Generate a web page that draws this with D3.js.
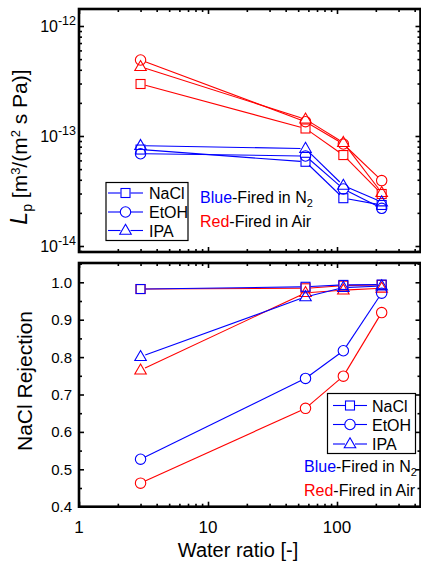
<!DOCTYPE html>
<html><head><meta charset="utf-8">
<script src="https://cdn.jsdelivr.net/npm/d3@7"></script>
<style>
body{margin:0;background:#fff}
svg{display:block;font-family:"Liberation Sans",Arial,Helvetica,sans-serif}
</style>
</head><body>
<svg id="chart" width="421" height="565"></svg>
<script>
// Water ratio (x) shared by both panels
const waterRatio = [3, 57, 112, 222];
const solvents = ["NaCl", "EtOH", "IPA"];
const shapes = ["square", "circle", "triangle"];

// Pure-water permeance Lp [m3/(m2 s Pa)]
const lpN2NaCl  = [7.53e-14, 5.83e-14, 2.72e-14, 2.36e-14];
const lpN2EtOH  = [6.90e-14, 6.58e-14, 3.30e-14, 2.20e-14];
const lpN2IPA   = [8.17e-14, 7.69e-14, 3.55e-14, 2.51e-14];
const lpAirNaCl = [2.97e-13, 1.17e-13, 6.71e-14, 2.97e-14];
const lpAirEtOH = [4.91e-13, 1.35e-13, 8.45e-14, 3.93e-14];
const lpAirIPA  = [4.26e-13, 1.42e-13, 8.70e-14, 3.05e-14];

// NaCl rejection [-]
const rejN2NaCl  = [0.982, 0.988, 0.993, 0.994];
const rejN2EtOH  = [0.527, 0.743, 0.817, 0.971];
const rejN2IPA   = [0.801, 0.961, 0.986, 0.990];
const rejAirNaCl = [0.982, 0.984, 0.991, 0.993];
const rejAirEtOH = [0.463, 0.663, 0.749, 0.919];
const rejAirIPA  = [0.765, 0.972, 0.979, 0.984];

const xMajorTicks = [1, 10, 100];
const lpTickExps = [-12, -13, -14];
const rejTicks = [0.4, 0.5, 0.6, 0.7, 0.8, 0.9, 1.0];

const BLUE = "#0000ff", RED = "#ff0000";

const svg = d3.select("#chart");

// ---- geometry
const X0 = 79, X1 = 420.5;
const topP = {y0: 9, y1: 252};
const botP = {y0: 263, y1: 506.7};

const x = d3.scaleLog().domain([1, Math.pow(10, (X1 - X0) / 129)]).range([X0, X1]);

// Log y: 1e-12 at y=26, 1e-14 at y=246
const decade = 110;
const lpTopExp = -12 + (26 - topP.y0) / decade;
const lpBotExp = -14 - (topP.y1 - 246) / decade;
const yLp = d3.scaleLog().domain([Math.pow(10, lpBotExp), Math.pow(10, lpTopExp)]).range([topP.y1, topP.y0]);
const yRej = d3.scaleLinear().domain([0.4, 0.4 + (botP.y1 - botP.y0) / 374]).range([botP.y1, botP.y0]);

const xMinor = [];
[1, 10, 100].forEach(b => { for (let k = 2; k <= 9; k++) { const v = b * k; if (v < x.domain()[1]) xMinor.push(v); } });
const lpMinor = [];
[-15, -14, -13, -12].forEach(e => { for (let k = 2; k <= 9; k++) { const v = k * Math.pow(10, e); if (v > yLp.domain()[0] && v < yLp.domain()[1]) lpMinor.push(v); } });
const rejMinor = d3.range(0.45, 1.05, 0.1).map(v => +v.toFixed(2));

function tickAxis(g, axis) {
  g.call(axis);
  g.select(".domain").remove();
  g.selectAll("text").remove();
  g.selectAll("line").attr("stroke", "#000").attr("stroke-width", 1.6);
}

function frame(p, yScale, yMajor, yMinor) {
  const g = svg.append("g");
  // x ticks, inward on bottom and top
  g.append("g").attr("transform", `translate(0,${p.y1})`).call(s => tickAxis(s, d3.axisBottom(x).tickValues(xMajorTicks).tickSize(-5)));
  g.append("g").attr("transform", `translate(0,${p.y1})`).call(s => tickAxis(s, d3.axisBottom(x).tickValues(xMinor).tickSize(-3)));
  g.append("g").attr("transform", `translate(0,${p.y0})`).call(s => tickAxis(s, d3.axisTop(x).tickValues(xMajorTicks).tickSize(-5)));
  g.append("g").attr("transform", `translate(0,${p.y0})`).call(s => tickAxis(s, d3.axisTop(x).tickValues(xMinor).tickSize(-3)));
  // y ticks, inward on left and right
  g.append("g").attr("transform", `translate(${X0},0)`).call(s => tickAxis(s, d3.axisLeft(yScale).tickValues(yMajor).tickSize(-5)));
  g.append("g").attr("transform", `translate(${X0},0)`).call(s => tickAxis(s, d3.axisLeft(yScale).tickValues(yMinor).tickSize(-3)));
  g.append("g").attr("transform", `translate(${X1},0)`).call(s => tickAxis(s, d3.axisRight(yScale).tickValues(yMajor).tickSize(-5)));
  g.append("g").attr("transform", `translate(${X1},0)`).call(s => tickAxis(s, d3.axisRight(yScale).tickValues(yMinor).tickSize(-3)));
  g.append("rect").attr("x", X0).attr("y", p.y0).attr("width", X1 - X0).attr("height", p.y1 - p.y0)
    .attr("fill", "none").attr("stroke", "#000").attr("stroke-width", 2.6);
}

function marker(g, shape, cx, cy, color) {
  if (shape === "square") {
    g.append("rect").attr("x", cx - 4.5).attr("y", cy - 4.5).attr("width", 9).attr("height", 9)
      .attr("fill", "none").attr("stroke", color).attr("stroke-width", 1.1);
  } else if (shape === "circle") {
    g.append("circle").attr("cx", cx).attr("cy", cy).attr("r", 5.2)
      .attr("fill", "none").attr("stroke", color).attr("stroke-width", 1.1);
  } else {
    const h = 10, w = 11.5;
    g.append("path").attr("d", `M${cx},${cy - h * 0.62}L${cx + w / 2},${cy + h * 0.38}L${cx - w / 2},${cy + h * 0.38}Z`)
      .attr("fill", "none").attr("stroke", color).attr("stroke-width", 1.1);
  }
}

// Line segments stop at the marker edge
function series(g, xs, ys, yScale, shape, color) {
  const pts = xs.map((v, i) => [x(v), yScale(ys[i])]);
  const gap = 5;
  for (let i = 0; i < pts.length - 1; i++) {
    const [ax, ay] = pts[i], [bx, by] = pts[i + 1];
    const L = Math.hypot(bx - ax, by - ay);
    if (L <= 2 * gap) continue;
    const ux = (bx - ax) / L, uy = (by - ay) / L;
    g.append("line").attr("x1", ax + ux * gap).attr("y1", ay + uy * gap)
      .attr("x2", bx - ux * gap).attr("y2", by - uy * gap)
      .attr("stroke", color).attr("stroke-width", 1.1);
  }
  pts.forEach(([px, py]) => marker(g, shape, px, py, color));
}

// ---- top panel: permeance
frame(topP, yLp, lpTickExps.map(e => Math.pow(10, e)), lpMinor);
const gTop = svg.append("g");
const lpSets = [
  [lpAirNaCl, "square", RED], [lpAirEtOH, "circle", RED], [lpAirIPA, "triangle", RED],
  [lpN2NaCl, "square", BLUE], [lpN2EtOH, "circle", BLUE], [lpN2IPA, "triangle", BLUE]
];
lpSets.forEach(([vals, sh, c]) => series(gTop, waterRatio, vals, yLp, sh, c));

lpTickExps.forEach(e => {
  const t = svg.append("text").attr("x", 76).attr("y", yLp(Math.pow(10, e)) + 6)
    .attr("text-anchor", "end").attr("font-size", 16).attr("fill", "#000");
  t.append("tspan").text("10");
  t.append("tspan").attr("dy", -7).attr("font-size", 12.5).text(String(e));
});

const lpTitle = svg.append("text").attr("transform", `translate(27,147) rotate(-90)`)
  .attr("text-anchor", "middle").attr("font-size", 21).attr("fill", "#000");
lpTitle.append("tspan").attr("font-style", "italic").attr("font-size", 23).text("L");
lpTitle.append("tspan").attr("dy", 5).attr("font-size", 14).text("p");
lpTitle.append("tspan").attr("dy", -5).text(" [m");
lpTitle.append("tspan").attr("dy", -7).attr("font-size", 13).text("3");
lpTitle.append("tspan").attr("dy", 7).text("/(m");
lpTitle.append("tspan").attr("dy", -7).attr("font-size", 13).text("2");
lpTitle.append("tspan").attr("dy", 7).text(" s Pa)]");

// ---- bottom panel: NaCl rejection
frame(botP, yRej, rejTicks, rejMinor);
const gBot = svg.append("g");
const rejSets = [
  [rejAirNaCl, "square", RED], [rejAirEtOH, "circle", RED], [rejAirIPA, "triangle", RED],
  [rejN2NaCl, "square", BLUE], [rejN2EtOH, "circle", BLUE], [rejN2IPA, "triangle", BLUE]
];
rejSets.forEach(([vals, sh, c]) => series(gBot, waterRatio, vals, yRej, sh, c));

rejTicks.forEach(v => {
  svg.append("text").attr("x", 72).attr("y", yRej(v) + 5.5).attr("text-anchor", "end")
    .attr("font-size", 15).attr("fill", "#000").text(v.toFixed(1));
});
xMajorTicks.forEach(v => {
  svg.append("text").attr("x", x(v)).attr("y", botP.y1 + 26).attr("text-anchor", "middle")
    .attr("font-size", 17).attr("fill", "#000").text(d3.format("d")(v));
});
svg.append("text").attr("x", 238).attr("y", 557).attr("text-anchor", "middle")
  .attr("font-size", 20).attr("fill", "#000").text("Water ratio [-]");
svg.append("text").attr("transform", `translate(32,381) rotate(-90)`).attr("text-anchor", "middle")
  .attr("font-size", 21).attr("fill", "#000").text("NaCl Rejection");

// ---- legends
function legend(bx, by, bw, bh, rowYs, lineX0, lineX1, textX) {
  const g = svg.append("g");
  g.append("rect").attr("x", bx).attr("y", by).attr("width", bw).attr("height", bh)
    .attr("fill", "#fff").attr("stroke", "#000").attr("stroke-width", 1.2);
  solvents.forEach((s, i) => {
    const cy = rowYs[i], mx = (lineX0 + lineX1) / 2;
    g.append("line").attr("x1", lineX0).attr("x2", mx - 5).attr("y1", cy).attr("y2", cy).attr("stroke", BLUE).attr("stroke-width", 1.1);
    g.append("line").attr("x1", mx + 5).attr("x2", lineX1).attr("y1", cy).attr("y2", cy).attr("stroke", BLUE).attr("stroke-width", 1.1);
    marker(g, shapes[i], mx, cy, BLUE);
    g.append("text").attr("x", textX).attr("y", cy + 6).attr("font-size", 16).attr("fill", "#000").text(s);
  });
}
function firedNote(tx, ty, anchor) {
  const a = svg.append("text").attr("x", tx).attr("y", ty).attr("font-size", 16).attr("text-anchor", anchor);
  a.append("tspan").attr("fill", BLUE).text("Blue");
  a.append("tspan").attr("fill", "#000").text("-Fired in N");
  a.append("tspan").attr("fill", "#000").attr("font-size", 11).attr("dy", 4).text("2");
  const b = svg.append("text").attr("x", tx).attr("y", ty + 24).attr("font-size", 16).attr("text-anchor", anchor);
  b.append("tspan").attr("fill", RED).text("Red");
  b.append("tspan").attr("fill", "#000").text("-Fired in Air");
}
legend(106, 182.5, 82, 58, [193, 212, 230.5], 108, 143, 149);
firedNote(200, 203, "start");
legend(327.5, 393.5, 88, 60, [405.5, 424.5, 444], 333, 367, 372);
firedNote(304, 472, "start");
</script>
</body></html>
